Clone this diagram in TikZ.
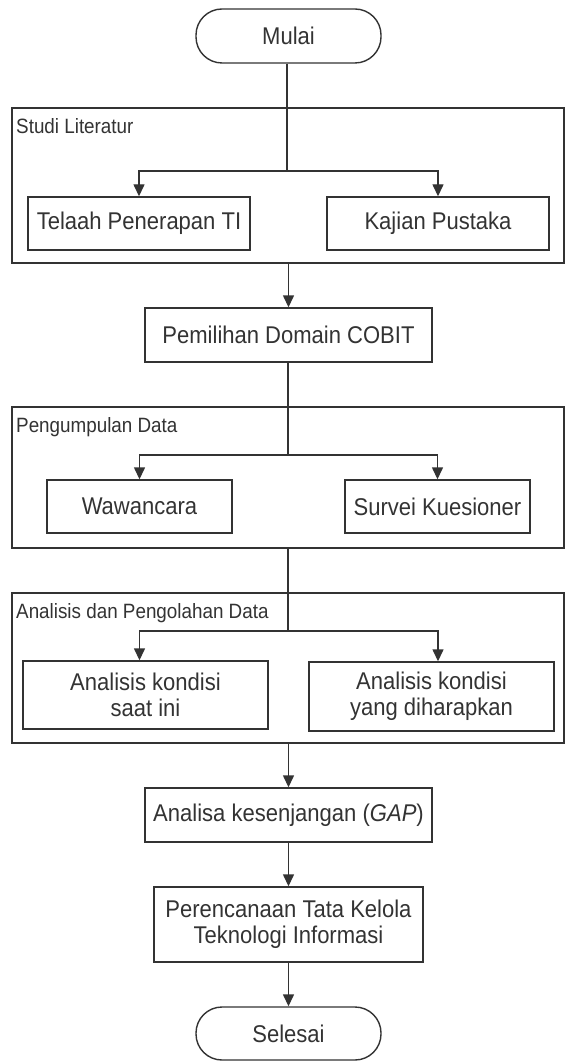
\documentclass[tikz,border=0pt]{standalone}
\usepackage{fontspec}
\setmainfont[FakeStretch=0.91]{Liberation Sans}
\usetikzlibrary{arrows.meta}
\definecolor{ink}{HTML}{333333}
\tikzset{
  x=1pt,y=-1pt,
  every node/.style={text=ink},
  proc/.style={draw=ink,line width=1.4pt,rectangle,inner sep=0pt,align=center,font=\fontsize{24.2}{26}\selectfont},
  term/.style={proc,rounded corners=26pt},
  grp/.style={draw=ink,line width=1.4pt,rectangle,inner sep=0pt},
  grplabel/.style={anchor=north west,inner sep=0pt,font=\fontsize{20.7}{24}\selectfont},
  conn/.style={draw=ink,line width=1.4pt},
  arr/.style={conn,-{Triangle[width=11pt,length=12pt]}},
}
\begin{document}
\begin{tikzpicture}
\useasboundingbox[fill=white] (0,0) rectangle (565,1064);
% terminals
\node[term,minimum width=185pt,minimum height=54pt] (mulai) at (288.5,36) {Mulai};
\node[term,minimum width=185pt,minimum height=53pt] (selesai) at (288.5,1033.5) {Selesai};
% group 1
\node[grp,minimum width=552pt,minimum height=155pt] (g1) at (288,185.5) {};
\node[grplabel] (g1l) at (16,118) {Studi Literatur};
\node[proc,minimum width=222pt,minimum height=53pt] (telaah) at (139,223.5) {Telaah Penerapan TI};
\node[proc,minimum width=222pt,minimum height=53pt] (kajian) at (438,223.5) {Kajian Pustaka};
% pemilihan
\node[proc,minimum width=287pt,minimum height=54pt] (cobit) at (288.5,335) {Pemilihan Domain COBIT};
% group 2
\node[grp,minimum width=552pt,minimum height=141pt] (g2) at (288,477.5) {};
\node[grplabel] (g2l) at (16,417) {Pengumpulan Data};
\node[proc,minimum width=185pt,minimum height=53pt] (wawan) at (139.5,506.5) {Wawancara};
\node[proc,minimum width=185pt,minimum height=53pt] (survei) at (437.5,506.5) {Survei Kuesioner};
% group 3
\node[grp,minimum width=552pt,minimum height=150pt] (g3) at (288,668) {};
\node[grplabel] (g3l) at (16,603) {Analisis dan Pengolahan Data};
\node[proc,minimum width=245pt,minimum height=68pt] (kini) at (145.5,695) {Analisis kondisi\\saat ini};
\node[proc,minimum width=245pt,minimum height=69pt] (harap) at (431.5,696.5) {Analisis kondisi\\yang diharapkan};
% gap
\node[proc,minimum width=287pt,minimum height=54pt] (gap) at (288.5,815) {Analisa kesenjangan (\textit{GAP})};
\node[proc,minimum width=269pt,minimum height=75pt] (renc) at (288.5,924.5) {Perencanaan Tata Kelola\\Teknologi Informasi};
% branch points
\coordinate (b1) at (287,171);
\coordinate (b2) at (288,455);
\coordinate (b3) at (288,631);
% connectors
\draw[conn] (mulai.south -| b1) -- (b1);
\draw[arr] (b1) -| (telaah.north);
\draw[arr] (b1) -| (kajian.north);
\draw[arr] (g1.south -| cobit.north) -- (cobit.north);
\draw[conn] (cobit.south -| b2) -- (b2);
\draw[arr] (b2) -| (wawan.north);
\draw[arr] (b2) -| (survei.north);
\draw[conn] (g2.south -| b3) -- (b3);
\draw[arr] (b3) -| ([xshift=-6pt]kini.north);
\draw[arr] (b3) -| ([xshift=6.5pt]harap.north);
\draw[arr] (g3.south -| gap.north) -- (gap.north);
\draw[arr] (gap.south) -- (renc.north);
\draw[arr] (renc.south) -- (selesai.north);
\end{tikzpicture}
\end{document}
